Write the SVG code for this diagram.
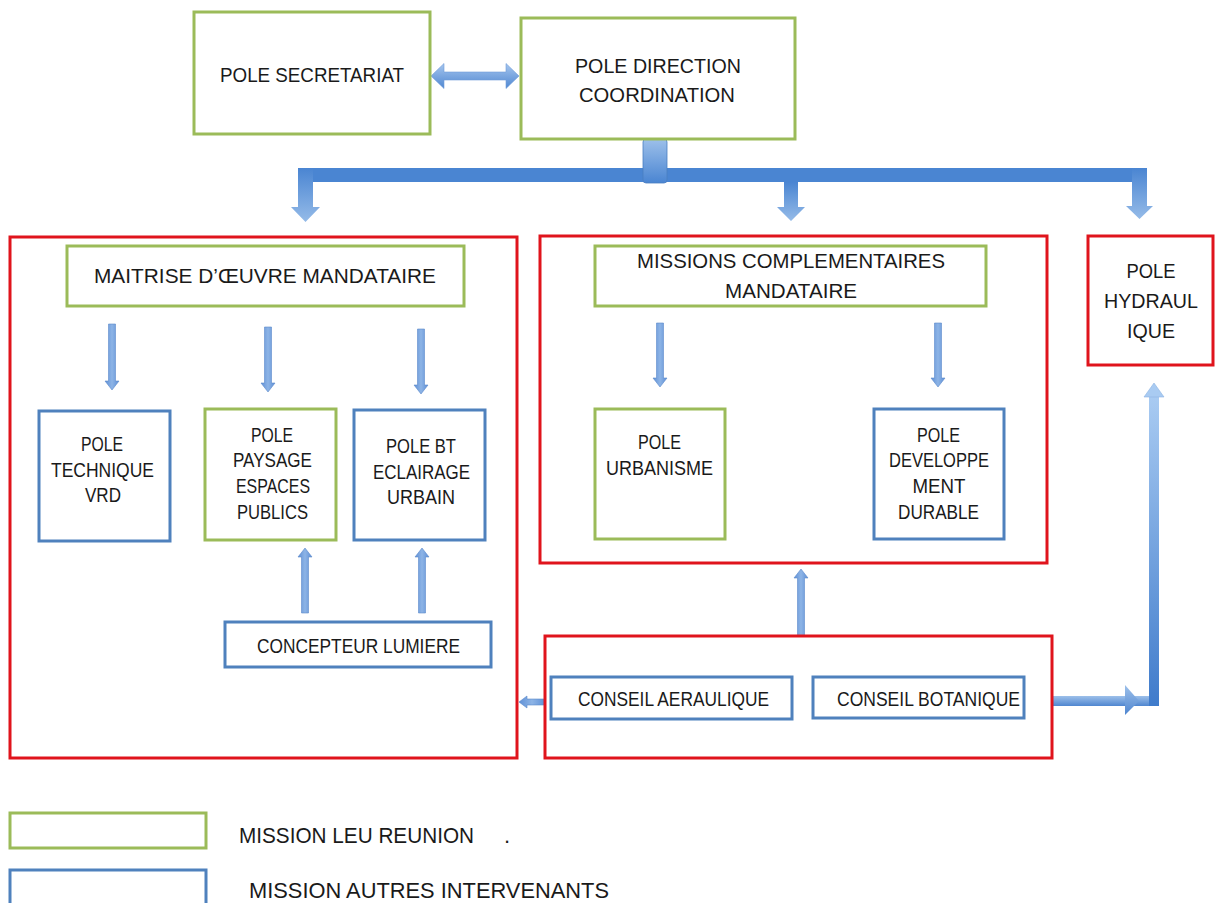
<svg xmlns="http://www.w3.org/2000/svg" width="1215" height="903" viewBox="0 0 1215 903">
<style>
.g{fill:#fff;stroke:#9BBB59;stroke-width:3}
.b{fill:#fff;stroke:#4F81BD;stroke-width:3}
.r{fill:none;stroke:#E0141C;stroke-width:3}
text{font-family:"Liberation Sans",Arial,sans-serif;font-size:21px;fill:#1a1a1a;text-anchor:middle}
.l{text-anchor:start;font-size:22px}
.sa{fill:url(#small);stroke:#5C8ACB;stroke-width:0.6}
</style>
<defs>
<linearGradient id="small" x1="0" y1="0" x2="1" y2="0"><stop offset="0" stop-color="#5F90D6"/><stop offset="0.5" stop-color="#8DB4E6"/><stop offset="1" stop-color="#5F90D6"/></linearGradient>
<linearGradient id="head" x1="0" y1="0" x2="0" y2="1"><stop offset="0" stop-color="#4A85D2"/><stop offset="1" stop-color="#95BBE8"/></linearGradient>
<linearGradient id="stub" x1="0" y1="0" x2="0" y2="1"><stop offset="0" stop-color="#9DC0EA"/><stop offset="1" stop-color="#4A85D2"/></linearGradient>
<linearGradient id="dbl" x1="0" y1="0" x2="0" y2="1"><stop offset="0" stop-color="#A6C6EE"/><stop offset="1" stop-color="#5088D2"/></linearGradient>
<linearGradient id="vert" x1="0" y1="0" x2="0" y2="1"><stop offset="0" stop-color="#A9CBF2"/><stop offset="1" stop-color="#3F7BCB"/></linearGradient>
<linearGradient id="hor" x1="0" y1="0" x2="0" y2="1"><stop offset="0" stop-color="#9DC0EA"/><stop offset="1" stop-color="#4F86D0"/></linearGradient>
</defs>

<g id="connectors">
  <polygon points="431,76 444,63.5 444,72 506,72 506,63.5 519,76 506,88.5 506,80 444,80 444,88.5" fill="url(#dbl)" stroke="#6F9BD8" stroke-width="0.6"/>
  <rect x="298" y="168" width="849" height="14" fill="#4A85D2"/>
  <polygon points="298,168 313,168 313,207 320,207 305.5,222 291,207 298,207" fill="url(#head)"/>
  <polygon points="784,182 798,182 798,207 805,207 791,221 777,207 784,207" fill="url(#head)"/>
  <polygon points="1132,168 1147,168 1147,206 1153,206 1139.5,219 1126,206 1132,206" fill="url(#head)"/>
  <rect x="643" y="139" width="24" height="44" rx="3" fill="url(#stub)" stroke="#4A7EC0" stroke-width="0.8"/>

  <polygon class="sa" points="108.5,324 115.5,324 115.5,381 119,381 112,390 105,381 108.5,381"/>
  <polygon class="sa" points="264.5,327 271.5,327 271.5,383 275,383 268,392 261,383 264.5,383"/>
  <polygon class="sa" points="417.5,329 424.5,329 424.5,385 428,385 421,394 414,385 417.5,385"/>
  <polygon class="sa" points="656.5,323 663.5,323 663.5,378 667,378 660,387 653,378 656.5,378"/>
  <polygon class="sa" points="934.5,323 941.5,323 941.5,378 945,378 938,387 931,378 934.5,378"/>

  <polygon class="sa" points="305,548 312,557 308.5,557 308.5,613 301.5,613 301.5,557 298,557"/>
  <polygon class="sa" points="422,548 429,557 425.5,557 425.5,613 418.5,613 418.5,557 415,557"/>
  <polygon class="sa" points="801,569 808,578 804.5,578 804.5,636 797.5,636 797.5,578 794,578"/>
  <polygon class="sa" points="519,702 527,696 527,699 545,699 545,705 527,705 527,708"/>

  <rect x="1052" y="696" width="107" height="10" fill="url(#hor)"/>
  <polygon points="1125,685 1139,701 1125,715" fill="url(#hor)"/>
  <rect x="1149" y="396" width="10" height="310" fill="url(#vert)"/>
  <polygon points="1144,397 1154,383 1164,397" fill="#A9CBF2" stroke="#8DB4E3" stroke-width="0.6"/>
</g>

<g id="pole-secretariat">
  <rect class="g" x="194" y="12" width="236" height="122"/>
  <text x="312" y="82" textLength="184" lengthAdjust="spacingAndGlyphs">POLE SECRETARIAT</text>
</g>
<g id="pole-direction">
  <rect class="g" x="521" y="18" width="274" height="121"/>
  <text x="658" y="73" textLength="166" lengthAdjust="spacingAndGlyphs">POLE DIRECTION</text>
  <text x="657" y="102" textLength="156" lengthAdjust="spacingAndGlyphs">COORDINATION</text>
</g>

<g id="container-moe">
  <rect class="r" x="10" y="237" width="507" height="521"/>
</g>
<g id="maitrise">
  <rect class="g" x="67" y="246" width="397" height="60"/>
  <text x="265" y="283" textLength="342" lengthAdjust="spacingAndGlyphs">MAITRISE D’ŒUVRE MANDATAIRE</text>
</g>
<g id="pole-technique">
  <rect class="b" x="39" y="411" width="131" height="130"/>
  <text x="102" y="451" textLength="42" lengthAdjust="spacingAndGlyphs">POLE</text>
  <text x="102.5" y="477" textLength="103" lengthAdjust="spacingAndGlyphs">TECHNIQUE</text>
  <text x="103" y="502" textLength="36" lengthAdjust="spacingAndGlyphs">VRD</text>
</g>
<g id="pole-paysage">
  <rect class="g" x="205" y="409" width="131" height="131"/>
  <text x="272" y="442" textLength="42" lengthAdjust="spacingAndGlyphs">POLE</text>
  <text x="272.5" y="467" textLength="79" lengthAdjust="spacingAndGlyphs">PAYSAGE</text>
  <text x="273" y="493" textLength="74" lengthAdjust="spacingAndGlyphs">ESPACES</text>
  <text x="272.5" y="519" textLength="71" lengthAdjust="spacingAndGlyphs">PUBLICS</text>
</g>
<g id="pole-bt">
  <rect class="b" x="354" y="410" width="131" height="130"/>
  <text x="421" y="453" textLength="70" lengthAdjust="spacingAndGlyphs">POLE BT</text>
  <text x="421.5" y="479" textLength="97" lengthAdjust="spacingAndGlyphs">ECLAIRAGE</text>
  <text x="421" y="504" textLength="68" lengthAdjust="spacingAndGlyphs">URBAIN</text>
</g>
<g id="concepteur-lumiere">
  <rect class="b" x="225" y="622" width="266" height="45"/>
  <text x="358.5" y="653" textLength="203" lengthAdjust="spacingAndGlyphs">CONCEPTEUR LUMIERE</text>
</g>

<g id="container-missions">
  <rect class="r" x="540" y="236" width="507" height="327"/>
</g>
<g id="missions-complementaires">
  <rect class="g" x="595" y="246" width="391" height="60"/>
  <text x="791" y="268" textLength="308" lengthAdjust="spacingAndGlyphs">MISSIONS COMPLEMENTAIRES</text>
  <text x="791" y="298" textLength="132" lengthAdjust="spacingAndGlyphs">MANDATAIRE</text>
</g>
<g id="pole-urbanisme">
  <rect class="g" x="595" y="409" width="130" height="130"/>
  <text x="659.5" y="449" textLength="43" lengthAdjust="spacingAndGlyphs">POLE</text>
  <text x="659.5" y="475" textLength="107" lengthAdjust="spacingAndGlyphs">URBANISME</text>
</g>
<g id="pole-developpement">
  <rect class="b" x="874" y="409" width="130" height="130"/>
  <text x="938.5" y="442" textLength="43" lengthAdjust="spacingAndGlyphs">POLE</text>
  <text x="939" y="467" textLength="100" lengthAdjust="spacingAndGlyphs">DEVELOPPE</text>
  <text x="939" y="493" textLength="53" lengthAdjust="spacingAndGlyphs">MENT</text>
  <text x="938.5" y="519" textLength="81" lengthAdjust="spacingAndGlyphs">DURABLE</text>
</g>

<g id="pole-hydraulique">
  <rect class="r" x="1088" y="236" width="125" height="129" fill="#fff"/>
  <text x="1151" y="278" textLength="49" lengthAdjust="spacingAndGlyphs">POLE</text>
  <text x="1151" y="308" textLength="94" lengthAdjust="spacingAndGlyphs">HYDRAUL</text>
  <text x="1151" y="338" textLength="48" lengthAdjust="spacingAndGlyphs">IQUE</text>
</g>

<g id="container-conseils">
  <rect class="r" x="545" y="636" width="507" height="122"/>
</g>
<g id="conseil-aeraulique">
  <rect class="b" x="551" y="677" width="241" height="42"/>
  <text x="673.5" y="706" textLength="191" lengthAdjust="spacingAndGlyphs">CONSEIL AERAULIQUE</text>
</g>
<g id="conseil-botanique">
  <rect class="b" x="813" y="677" width="211" height="41"/>
  <text x="928.5" y="706" textLength="183" lengthAdjust="spacingAndGlyphs">CONSEIL BOTANIQUE</text>
</g>

<g id="legend-leu">
  <rect class="g" x="10" y="813" width="196" height="35"/>
  <text class="l" x="239" y="843" textLength="235" lengthAdjust="spacingAndGlyphs">MISSION LEU REUNION</text>
  <text class="l" x="504" y="843">.</text>
</g>
<g id="legend-autres">
  <rect class="b" x="10" y="870" width="196" height="40"/>
  <text class="l" x="249" y="898" textLength="360" lengthAdjust="spacingAndGlyphs">MISSION AUTRES INTERVENANTS</text>
</g>
</svg>
